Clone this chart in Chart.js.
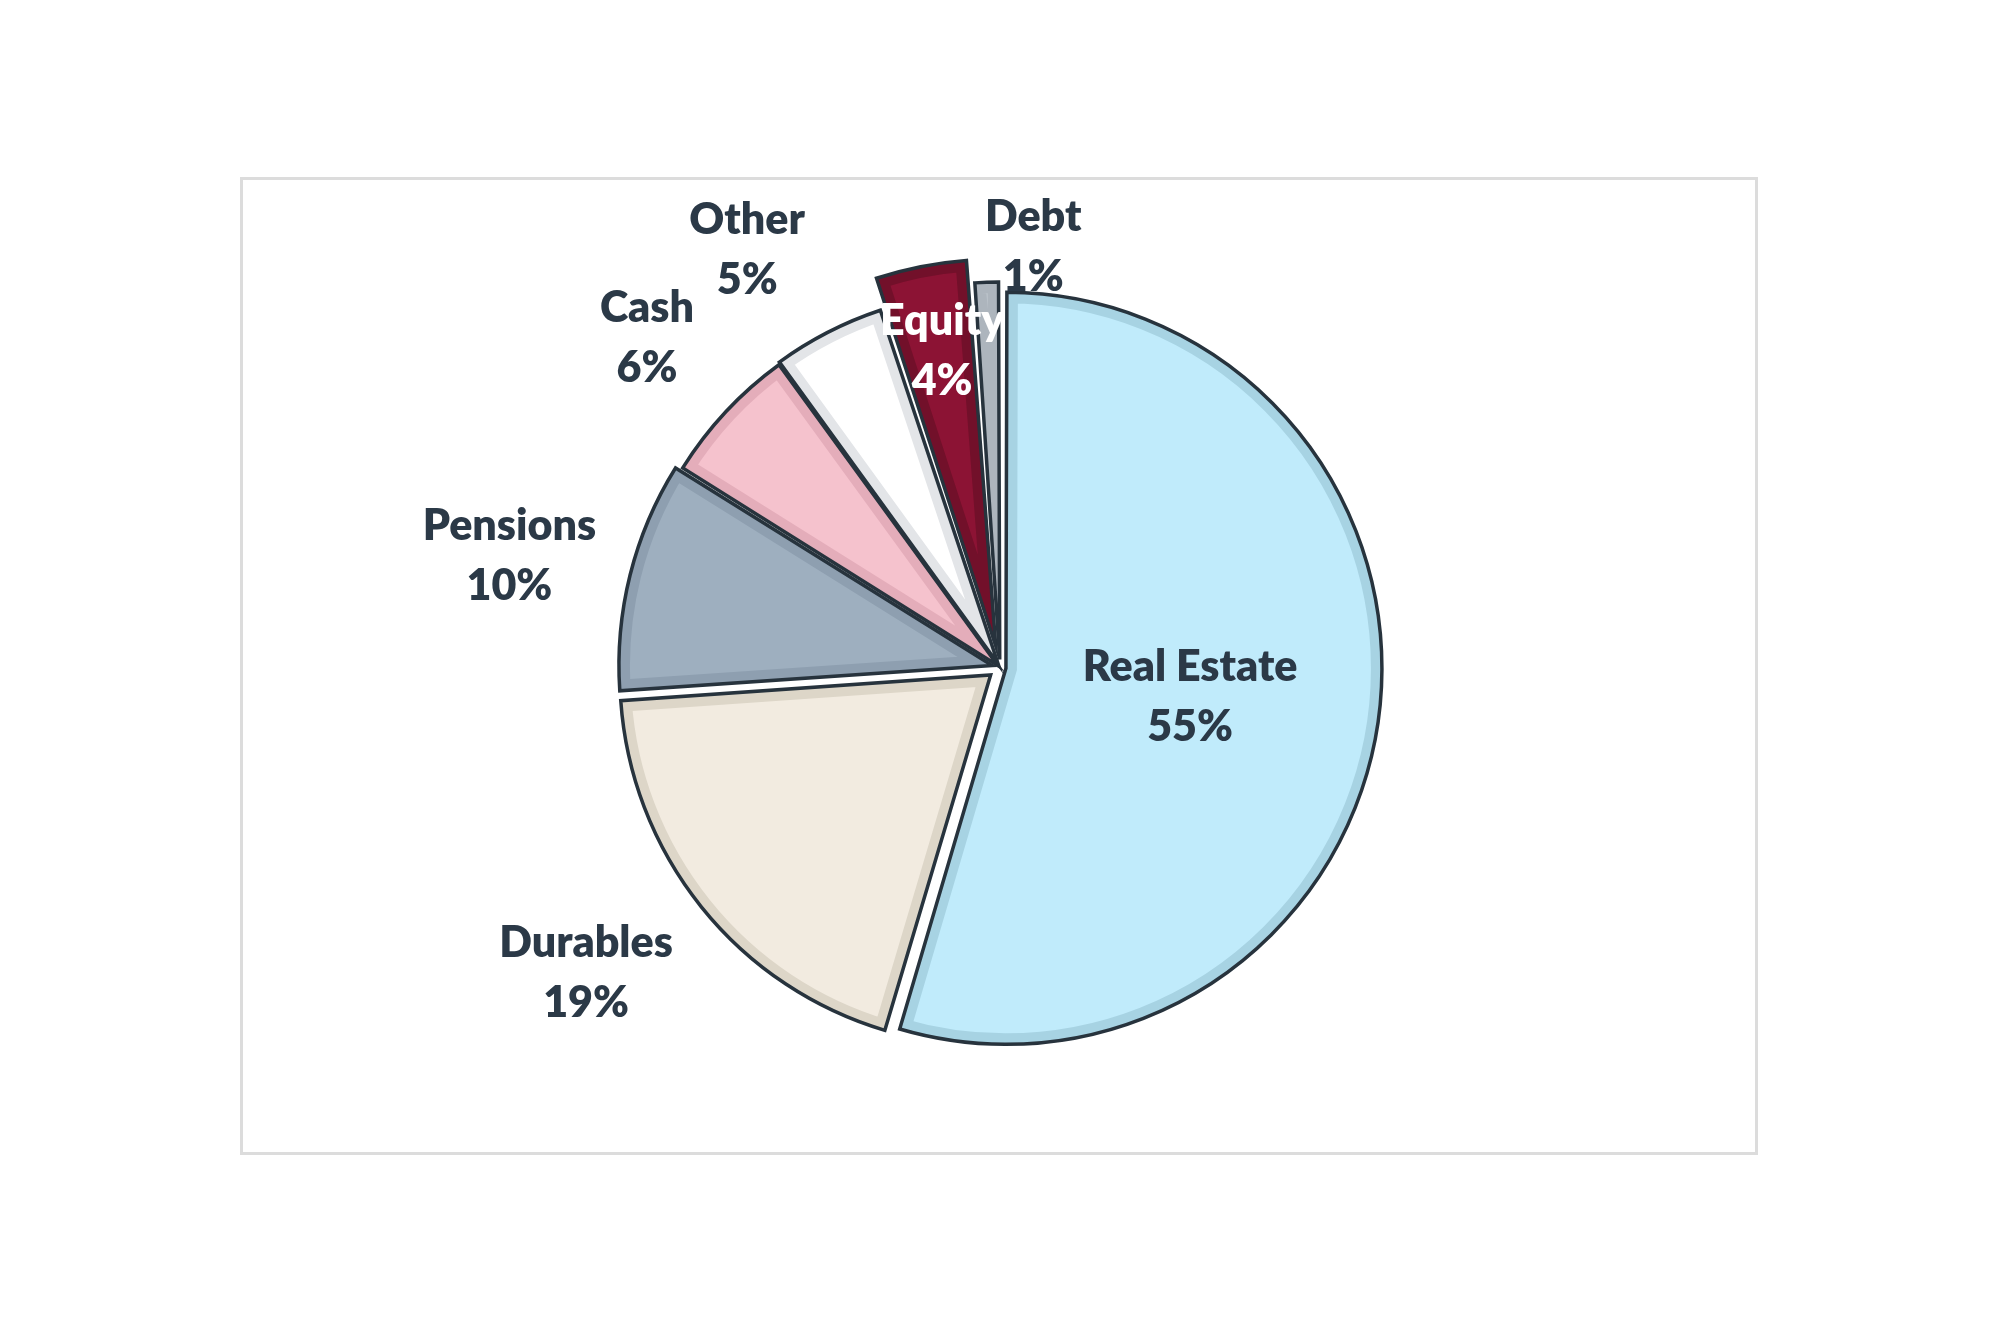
<!DOCTYPE html>
<html>
<head>
<meta charset="utf-8">
<script src="https://cdn.jsdelivr.net/npm/chart.js@4.4.1/dist/chart.umd.min.js"></script>
<style>
  html, body { margin:0; padding:0; background:#fff; }
  #wrap { position:relative; width:2000px; height:1335px; }
  #frame { position:absolute; left:240px; top:177px; width:1518px; height:978px; box-sizing:border-box; border:3px solid #dcdcdc; }
  #pie { position:absolute; left:0; top:0; }
</style>
</head>
<body>
<div id="wrap">
  <div id="frame"></div>
  <canvas id="pie" width="2000" height="1335"></canvas>
</div>
<script>
// household wealth composition (%)
const categories = ['Real Estate', 'Durables', 'Pensions', 'Cash', 'Other', 'Equity', 'Debt'];
const shares     = [54.6, 19.3, 10.0, 6.1, 4.9, 4.0, 1.1];

// look
const fills   = ['#c0ebfb', '#f2ebe0', '#9eafbf', '#f5c2cd', '#ffffff', '#8c1334', '#c3cad1'];
const shades  = ['#a7d3e3', '#ddd6c8', '#8e9fb0', '#e4adba', '#e3e5e8', '#72102a', '#adb5bd'];
const explode = [6, 12, 8, 3, 4, 22, 8];          // px the slice is pulled out
const labelDist  = [0.52, 1.39, 1.36, 1.305, 1.32, 0.87, 1.14];   // x radius, from pie centre
const labelNudge = [0.7, 2.3, -1.2, 0, -4, 0.8, 6.5];             // degrees off the bisector
const labelInk   = ['#2b3947', '#2b3947', '#2b3947', '#2b3947', '#2b3947', '#ffffff', '#2b3947'];
const OUTLINE = '#27333d';

// bevel band + outline + labels, on top of the library's arcs
const bevelPlugin = {
  id: 'bevel',
  afterDatasetsDraw(chart){
    const ctx = chart.ctx;
    const meta = chart.getDatasetMeta(0);
    meta.data.forEach((arc, i) => {
      const t = explode[i];
      const circ = arc.endAngle - arc.startAngle;
      const mid = (arc.startAngle + arc.endAngle) / 2;
      const fix = 1 - Math.sin(Math.min(Math.PI, circ));
      const ro = t * fix;
      const R = arc.outerRadius + ro;
      const beta = Math.max(0.001, circ * R - ro / Math.PI) / R;
      const a0 = arc.startAngle + (circ - beta) / 2;
      const a1 = arc.endAngle - (circ - beta) / 2;
      ctx.save();
      ctx.translate(Math.cos(mid) * t, Math.sin(mid) * t);
      ctx.beginPath();
      ctx.moveTo(arc.x, arc.y);
      ctx.arc(arc.x, arc.y, R, a0, a1);
      ctx.closePath();
      ctx.save();
      ctx.clip();
      ctx.lineJoin = 'miter';
      ctx.lineWidth = 22;
      ctx.strokeStyle = shades[i];
      ctx.stroke();
      ctx.restore();
      ctx.lineJoin = 'miter';
      ctx.lineWidth = 3.5;
      ctx.strokeStyle = OUTLINE;
      ctx.stroke();
      ctx.restore();
    });

    ctx.save();
    ctx.font = '800 43px Lato, "Open Sans", sans-serif';
    ctx.textAlign = 'center';
    ctx.textBaseline = 'middle';
    meta.data.forEach((arc, i) => {
      const mid = (arc.startAngle + arc.endAngle) / 2 + labelNudge[i] * Math.PI / 180;
      const d = labelDist[i] * arc.outerRadius;
      const x = arc.x + Math.cos(mid) * d;
      const y = arc.y + Math.sin(mid) * d;
      ctx.fillStyle = labelInk[i];
      ctx.fillText(categories[i], x, y - 30);
      ctx.fillText(Math.round(shares[i]) + '%', x, y + 30);
    });
    ctx.restore();
  }
};

new Chart(document.getElementById('pie'), {
  type: 'pie',
  data: {
    labels: categories,
    datasets: [{
      data: shares,
      backgroundColor: fills,
      borderWidth: 0,
      offset: explode.map(v => v * 4)
    }]
  },
  options: {
    responsive: false,
    animation: false,
    radius: 370,
    layout: { padding: 0 },
    events: [],
    plugins: { legend: { display: false }, tooltip: { enabled: false } }
  },
  plugins: [bevelPlugin]
});
</script>
</body>
</html>
